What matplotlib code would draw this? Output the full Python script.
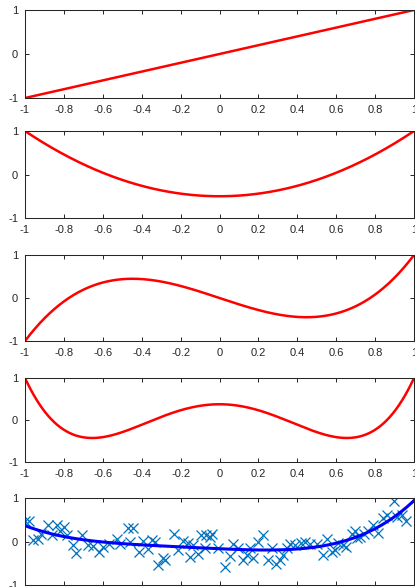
import numpy as np
import matplotlib
matplotlib.use('Agg')
import matplotlib.pyplot as plt

plt.rcParams['font.family'] = ['Liberation Sans', 'DejaVu Sans']

# Noisy samples shown in the bottom panel
xs = [-1.0, -0.978, -0.957, -0.932, -0.919, -0.88, -0.86, -0.837, -0.82, -0.8,
      -0.786, -0.755, -0.738, -0.705, -0.674, -0.652, -0.618, -0.597, -0.567, -0.529,
      -0.512, -0.472, -0.46, -0.443, -0.414, -0.392, -0.37, -0.349, -0.332, -0.315,
      -0.289, -0.28, -0.232, -0.212, -0.186, -0.164, -0.152, -0.135, -0.112, -0.095,
      -0.075, -0.071, -0.049, -0.037, -0.006, 0.028, 0.054, 0.071, 0.097, 0.119,
      0.14, 0.157, 0.174, 0.196, 0.225, 0.251, 0.268, 0.29, 0.311, 0.328,
      0.345, 0.362, 0.388, 0.417, 0.44, 0.465, 0.5, 0.534, 0.551, 0.577,
      0.594, 0.611, 0.637, 0.649, 0.68, 0.697, 0.706, 0.722, 0.744, 0.765,
      0.791, 0.817, 0.842, 0.86, 0.899, 0.911, 0.94, 0.957]
ys = [0.46, 0.48, 0.03, 0.06, 0.18, 0.39, 0.14, 0.39, 0.25, 0.34,
      0.16, -0.09, -0.26, 0.16, -0.09, -0.11, -0.25, -0.13, -0.05, 0.06,
      -0.05, 0.31, -0.01, 0.31, -0.24, 0.01, -0.18, 0.03, -0.01, -0.53,
      -0.39, -0.42, 0.18, -0.19, 0.01, -0.04, -0.36, -0.09, -0.28, 0.15,
      -0.15, 0.15, 0.10, 0.18, -0.15, -0.58, -0.33, -0.05, -0.16, -0.42,
      -0.31, -0.16, -0.39, -0.01, 0.15, -0.42, -0.15, -0.52, -0.42, -0.30,
      -0.16, -0.05, -0.09, -0.03, -0.01, -0.05, -0.05, -0.31, 0.06, -0.24,
      -0.20, -0.03, -0.07, -0.12, 0.18, 0.25, 0.08, 0.10, 0.18, 0.25,
      0.37, 0.20, 0.53, 0.60, 0.94, 0.56, 0.60, 0.46]

xticks = [-1, -0.8, -0.6, -0.4, -0.2, 0, 0.2, 0.4, 0.6, 0.8, 1]
xticklabels = ['-1', '-0.8', '-0.6', '-0.4', '-0.2', '0', '0.2', '0.4', '0.6', '0.8', '1']
yticks = [-1, 0, 1]
yticklabels = ['-1', '0', '1']

x = np.linspace(-1, 1, 400)
# Legendre polynomials P1..P4
legendre = [np.polynomial.legendre.Legendre.basis(n)(x) for n in range(1, 5)]

# degree-4 least squares fit of the samples
fit = np.polynomial.legendre.Legendre.fit(xs, ys, 4)

W, H = 415, 587
fig = plt.figure(figsize=(W / 100, H / 100), dpi=100)

# panel boxes in pixels: (top, bottom)
boxes = [(10, 98), (131, 218), (255, 341), (378, 462), (498, 585)]
left, right = 25, 414

axes = []
for top, bot in boxes:
    ax = fig.add_axes([left / W, 1 - bot / H, (right - left) / W, (bot - top) / H])
    axes.append(ax)

for ax, p in zip(axes[:4], legendre):
    ax.plot(x, p, color='#ff0000', lw=1.8)

ax = axes[4]
ax.plot(xs, ys, 'x', color='#0072BD', ms=7.5, mew=0.9)
ax.plot(x, fit(x), color='#0000ff', lw=2.2)

for ax in axes:
    ax.set_xlim(-1, 1)
    ax.set_ylim(-1, 1)
    ax.set_xticks(xticks)
    ax.set_xticklabels(xticklabels)
    ax.set_yticks(yticks)
    ax.set_yticklabels(yticklabels)
    ax.tick_params(direction='in', top=True, right=True, length=3, width=0.7,
                   labelsize=8, colors='#262626', pad=5)
    for s in ax.spines.values():
        s.set_color('#262626')
        s.set_linewidth(0.75)

fig.savefig('out.png', dpi=100)
